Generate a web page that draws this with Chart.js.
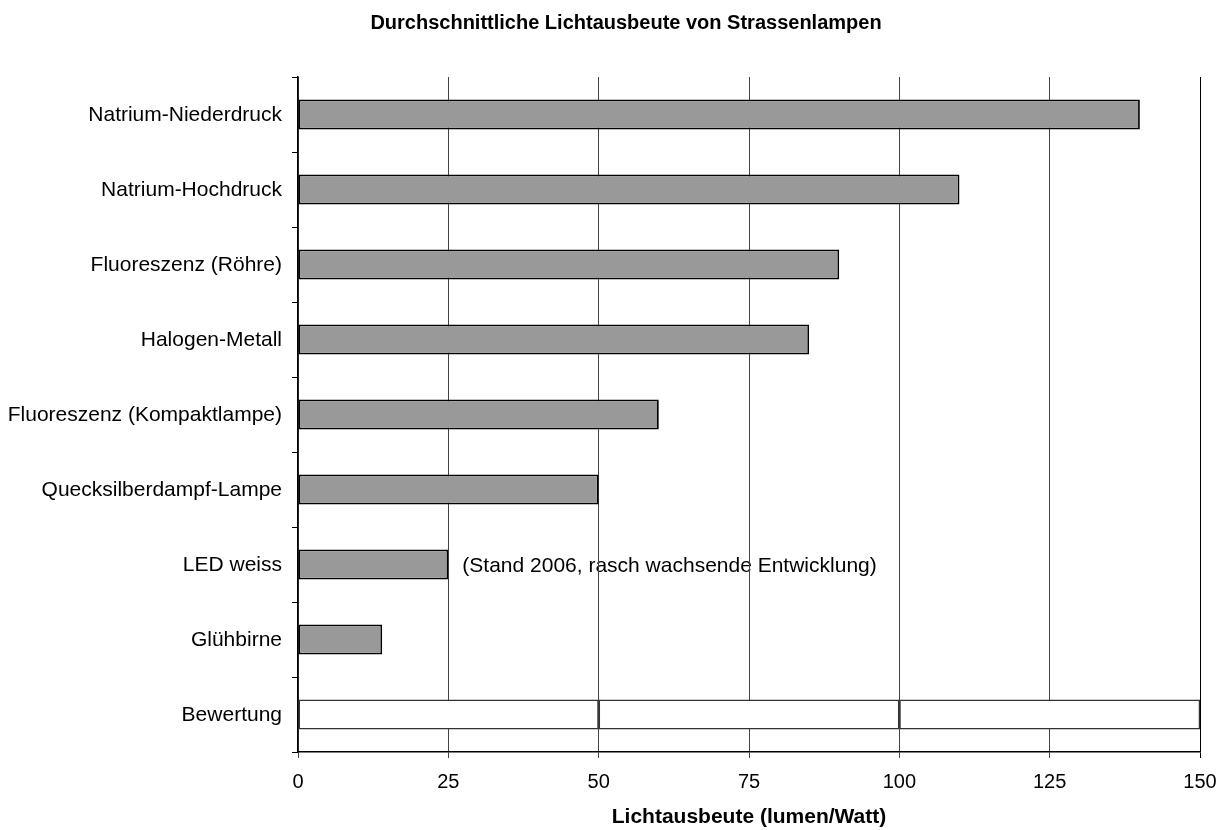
<!DOCTYPE html>
<html>
<head>
<meta charset="utf-8">
<script src="https://cdn.jsdelivr.net/npm/chart.js@4/dist/chart.umd.min.js"></script>
<style>
  html, body { margin: 0; padding: 0; background: #ffffff; }
  #wrap { width: 1230px; height: 830px; }
</style>
</head>
<body>
<div id="wrap"><canvas id="c" width="1230" height="830"></canvas></div>
<script>
// Lamp types, top to bottom
const categories = [
  'Natrium-Niederdruck',
  'Natrium-Hochdruck',
  'Fluoreszenz (Röhre)',
  'Halogen-Metall',
  'Fluoreszenz (Kompaktlampe)',
  'Quecksilberdampf-Lampe',
  'LED weiss',
  'Glühbirne',
  'Bewertung'
];

// Average luminous efficacy in lumen per watt
const efficacy = [140, 110, 90, 85, 60, 50, 25, 14, null];

// Rating row: three equal bands of 50 lm/W each
const ratingBands = [50, 50, 50];

const xTicks = [0, 25, 50, 75, 100, 125, 150];

const chartTitle = 'Durchschnittliche Lichtausbeute von Strassenlampen';
const xTitle = 'Lichtausbeute (lumen/Watt)';
const ledNote = '(Stand 2006, rasch wachsende Entwicklung)';

const FONT = '"Liberation Sans", Arial, sans-serif';

// Rating segments live only in the last category
const ratingDatasets = ratingBands.map((v, i) => ({
  label: 'Bewertung ' + (i + 1),
  data: categories.map((c, k) => (k === categories.length - 1 ? v : null)),
  backgroundColor: '#ffffff',
  borderColor: '#333333',
  borderWidth: 1.5,
  borderSkipped: false,
  barPercentage: 0.4,
  categoryPercentage: 1.0
}));

// Note next to the LED bar, drawn before the grid so the lines cross it
const notePlugin = {
  id: 'ledNote',
  beforeDraw(chart) {
    const { ctx, scales } = chart;
    const idx = categories.indexOf('LED weiss');
    const x = scales.x.getPixelForValue(efficacy[idx]) + 14;
    const y = scales.y.getPixelForValue(idx);
    ctx.save();
    ctx.fillStyle = '#000000';
    ctx.font = '21px ' + FONT;
    ctx.textAlign = 'left';
    ctx.textBaseline = 'middle';
    ctx.fillText(ledNote, x, y + 2);
    ctx.restore();
  }
};

// Chart heading, slightly right of the canvas centre
const headingPlugin = {
  id: 'heading',
  afterDraw(chart) {
    const { ctx } = chart;
    ctx.save();
    ctx.fillStyle = '#000000';
    ctx.font = 'bold 20px ' + FONT;
    ctx.textAlign = 'center';
    ctx.textBaseline = 'middle';
    ctx.fillText(chartTitle, chart.width / 2 + 11, 23);
    ctx.restore();
  }
};

new Chart(document.getElementById('c'), {
  type: 'bar',
  data: {
    labels: categories,
    datasets: [
      {
        label: 'Lichtausbeute',
        data: efficacy,
        backgroundColor: '#999999',
        borderColor: '#000000',
        borderWidth: 1.8,
        borderSkipped: false,
        barPercentage: 0.4,
        categoryPercentage: 1.0
      },
      ...ratingDatasets
    ]
  },
  options: {
    indexAxis: 'y',
    responsive: false,
    animation: false,
    layout: { padding: { left: 0, right: 30, top: 77, bottom: 0 } },
    plugins: {
      legend: { display: false },
      tooltip: { enabled: false },
      title: { display: false }
    },
    scales: {
      x: {
        type: 'linear',
        stacked: true,
        min: 0,
        max: 150,
        afterBuildTicks(scale) {
          scale.ticks = xTicks.map(v => ({ value: v }));
        },
        afterFit(scale) { scale.height = 78; },
        border: { display: true, color: '#000000', width: 1.5 },
        grid: {
          drawOnChartArea: true,
          drawTicks: true,
          tickLength: 6,
          color: ctx => (ctx.tick && ctx.tick.value === 150 ? '#000000' : '#444444'),
          lineWidth: 1
        },
        ticks: {
          color: '#000000',
          font: { family: FONT, size: 20 },
          padding: 12,
          maxRotation: 0
        },
        title: {
          display: true,
          text: xTitle,
          color: '#000000',
          font: { family: FONT, size: 21, weight: 'bold' },
          padding: { top: 0, bottom: 0 }
        }
      },
      y: {
        stacked: true,
        afterFit(scale) { scale.width = 298; },
        border: { display: true, color: '#000000', width: 1.5 },
        grid: {
          offset: true,
          drawOnChartArea: false,
          drawTicks: true,
          tickLength: 6,
          color: '#000000',
          lineWidth: 1
        },
        ticks: {
          color: '#000000',
          font: { family: FONT, size: 21 },
          padding: 10,
          labelOffset: 1
        }
      }
    }
  },
  plugins: [notePlugin, headingPlugin]
});
</script>
</body>
</html>
